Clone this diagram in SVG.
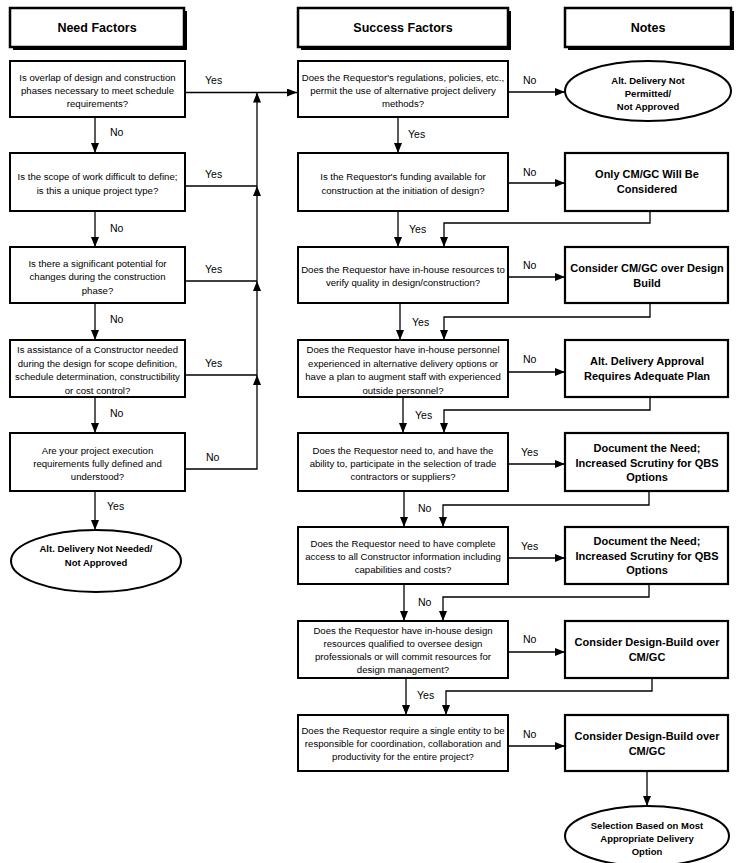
<svg xmlns="http://www.w3.org/2000/svg" width="739" height="863" viewBox="0 0 739 863">
<style>
.hdr{fill:#fff;stroke:#000;stroke-width:2.5}
.shd{fill:#000}
.q{fill:#fff;stroke:#000;stroke-width:2}
.n{fill:#fff;stroke:#000;stroke-width:2.2}
.ht{font-family:"Liberation Sans",Arial,sans-serif;font-size:12.5px;font-weight:bold;text-anchor:middle}
.qt{font-family:"Liberation Sans",Arial,sans-serif;font-size:9.6px;text-anchor:middle}
.nt{font-family:"Liberation Sans",Arial,sans-serif;font-size:11px;font-weight:bold;text-anchor:middle}
.et{font-family:"Liberation Sans",Arial,sans-serif;font-size:9.5px;font-weight:bold;text-anchor:middle}
.lb{font-family:"Liberation Sans",Arial,sans-serif;font-size:10.5px}
.c{fill:none;stroke:#000;stroke-width:1.3}
</style>
<defs>
<marker id="ah" viewBox="0 0 10 8" refX="10" refY="4" markerWidth="10" markerHeight="8" markerUnits="userSpaceOnUse" orient="auto">
<path d="M0,0 L10,4 L0,8 Z" fill="#000"/>
</marker>
</defs>
<rect width="739" height="863" fill="#fff"/>

<!-- Headers -->
<g id="h-need">
<rect class="shd" x="13" y="11" width="174" height="39"/>
<rect class="hdr" x="10" y="8" width="174" height="39"/>
<text class="ht" x="97" y="32">Need Factors</text>
</g>
<g id="h-success">
<rect class="shd" x="301" y="11" width="210" height="39"/>
<rect class="hdr" x="298" y="8" width="210" height="39"/>
<text class="ht" x="403" y="32">Success Factors</text>
</g>
<g id="h-notes">
<rect class="shd" x="568" y="11" width="166" height="39"/>
<rect class="hdr" x="565" y="8" width="166" height="39"/>
<text class="ht" x="648" y="32">Notes</text>
</g>

<!-- Need factors -->
<g id="need1">
<rect class="q" x="10" y="61" width="175" height="56"/>
<text class="qt" x="97.5" y="80.5">Is overlap of design and construction</text>
<text class="qt" x="97.5" y="93.5">phases necessary to meet schedule</text>
<text class="qt" x="97.5" y="106.5">requirements?</text>
</g>
<g id="need2">
<rect class="q" x="10" y="153" width="175" height="58"/>
<text class="qt" x="97.5" y="179.5">Is the scope of work difficult to define;</text>
<text class="qt" x="97.5" y="193.5">is this a unique project type?</text>
</g>
<g id="need3">
<rect class="q" x="10" y="247" width="175" height="56"/>
<text class="qt" x="97.5" y="266.5">Is there a significant potential for</text>
<text class="qt" x="97.5" y="279.5">changes during the construction</text>
<text class="qt" x="97.5" y="293.5">phase?</text>
</g>
<g id="need4">
<rect class="q" x="10" y="340" width="175" height="57"/>
<text class="qt" x="97.5" y="352.5">Is assistance of a Constructor needed</text>
<text class="qt" x="97.5" y="366.5">during the design for scope definition,</text>
<text class="qt" x="97.5" y="379.5">schedule determination, constructibility</text>
<text class="qt" x="97.5" y="393.5">or cost control?</text>
</g>
<g id="need5">
<rect class="q" x="10" y="433" width="175" height="58"/>
<text class="qt" x="97.5" y="453.5">Are your project execution</text>
<text class="qt" x="97.5" y="466.5">requirements fully defined and</text>
<text class="qt" x="97.5" y="479.5">understood?</text>
</g>
<g id="end-need">
<ellipse class="q" cx="96" cy="561" rx="85" ry="31"/>
<text class="et" x="96" y="551.5">Alt. Delivery Not Needed/</text>
<text class="et" x="96" y="565.5">Not Approved</text>
</g>

<!-- Success factors -->
<g id="s1">
<rect class="q" x="298" y="61" width="210" height="56"/>
<text class="qt" x="403" y="80.5">Does the Requestor's regulations, policies, etc.,</text>
<text class="qt" x="403" y="93.5">permit the use of alternative project delivery</text>
<text class="qt" x="403" y="106.5">methods?</text>
</g>
<g id="s2">
<rect class="q" x="298" y="153" width="210" height="58"/>
<text class="qt" x="403" y="179.5">Is the Requestor's funding available for</text>
<text class="qt" x="403" y="193.5">construction at the initiation of design?</text>
</g>
<g id="s3">
<rect class="q" x="298" y="247" width="210" height="56"/>
<text class="qt" x="403" y="272.5">Does the Requestor have in-house resources to</text>
<text class="qt" x="403" y="285.5">verify quality in design/construction?</text>
</g>
<g id="s4">
<rect class="q" x="298" y="340" width="210" height="57"/>
<text class="qt" x="403" y="352.5">Does the Requestor have in-house personnel</text>
<text class="qt" x="403" y="366.5">experienced in alternative delivery options or</text>
<text class="qt" x="403" y="379.5">have a plan to augment staff with experienced</text>
<text class="qt" x="403" y="393.5">outside personnel?</text>
</g>
<g id="s5">
<rect class="q" x="298" y="433" width="210" height="58"/>
<text class="qt" x="403" y="453.5">Does the Requestor need to, and have the</text>
<text class="qt" x="403" y="466.5">ability to, participate in the selection of trade</text>
<text class="qt" x="403" y="479.5">contractors or suppliers?</text>
</g>
<g id="s6">
<rect class="q" x="298" y="527" width="210" height="57"/>
<text class="qt" x="403" y="546.5">Does the Requestor need to have complete</text>
<text class="qt" x="403" y="559.5">access to all Constructor information including</text>
<text class="qt" x="403" y="572.5">capabilities and costs?</text>
</g>
<g id="s7">
<rect class="q" x="298" y="621" width="210" height="57"/>
<text class="qt" x="403" y="633.5">Does the Requestor have in-house design</text>
<text class="qt" x="403" y="646.5">resources qualified to oversee design</text>
<text class="qt" x="403" y="659.5">professionals or will commit resources for</text>
<text class="qt" x="403" y="672.5">design management?</text>
</g>
<g id="s8">
<rect class="q" x="298" y="715" width="210" height="56"/>
<text class="qt" x="403" y="733.5">Does the Requestor require a single entity to be</text>
<text class="qt" x="403" y="746.5">responsible for coordination, collaboration and</text>
<text class="qt" x="403" y="759.5">productivity for the entire project?</text>
</g>

<!-- Notes -->
<g id="n1">
<ellipse class="q" cx="648" cy="91" rx="83" ry="30"/>
<text class="et" x="648" y="83.5">Alt. Delivery Not</text>
<text class="et" x="648" y="96.5">Permitted/</text>
<text class="et" x="648" y="109.5">Not Approved</text>
</g>
<g id="n2">
<rect class="n" x="565" y="153" width="163" height="58"/>
<text class="nt" x="647" y="178">Only CM/GC Will Be</text>
<text class="nt" x="647" y="193">Considered</text>
</g>
<g id="n3">
<rect class="n" x="565" y="247" width="163" height="56"/>
<text class="nt" x="647" y="272">Consider CM/GC over Design</text>
<text class="nt" x="647" y="287">Build</text>
</g>
<g id="n4">
<rect class="n" x="565" y="340" width="163" height="57"/>
<text class="nt" x="647" y="365">Alt. Delivery Approval</text>
<text class="nt" x="647" y="380">Requires Adequate Plan</text>
</g>
<g id="n5">
<rect class="n" x="565" y="433" width="163" height="58"/>
<text class="nt" x="647" y="452">Document the Need;</text>
<text class="nt" x="647" y="467">Increased Scrutiny for QBS</text>
<text class="nt" x="647" y="481">Options</text>
</g>
<g id="n6">
<rect class="n" x="565" y="527" width="163" height="57"/>
<text class="nt" x="647" y="545">Document the Need;</text>
<text class="nt" x="647" y="560">Increased Scrutiny for QBS</text>
<text class="nt" x="647" y="574">Options</text>
</g>
<g id="n7">
<rect class="n" x="565" y="621" width="163" height="57"/>
<text class="nt" x="647" y="646">Consider Design-Build over</text>
<text class="nt" x="647" y="661">CM/GC</text>
</g>
<g id="n8">
<rect class="n" x="565" y="715" width="163" height="56"/>
<text class="nt" x="647" y="740">Consider Design-Build over</text>
<text class="nt" x="647" y="755">CM/GC</text>
</g>
<g id="end-final">
<ellipse class="q" cx="647" cy="836" rx="82" ry="30"/>
<text class="et" x="647" y="828.5">Selection Based on Most</text>
<text class="et" x="647" y="841.5">Appropriate Delivery</text>
<text class="et" x="647" y="854.5">Option</text>
</g>

<!-- Connectors -->
<g id="connectors">
<!-- left column downward -->
<path class="c" d="M95,117 V153" marker-end="url(#ah)"/>
<path class="c" d="M95,211 V247" marker-end="url(#ah)"/>
<path class="c" d="M95,303 V340" marker-end="url(#ah)"/>
<path class="c" d="M95,397 V433" marker-end="url(#ah)"/>
<path class="c" d="M95,491 V530" marker-end="url(#ah)"/>
<!-- left column yes lines -->
<path class="c" d="M185,92.5 H297" marker-end="url(#ah)"/>
<path class="c" d="M185,186 H257"/>
<path class="c" d="M185,281 H257"/>
<path class="c" d="M185,375 H257"/>
<path class="c" d="M185,469 H257 V375" marker-end="url(#ah)"/>
<path class="c" d="M257,375 V281" marker-end="url(#ah)"/>
<path class="c" d="M257,281 V186" marker-end="url(#ah)"/>
<path class="c" d="M257,186 V92.5" marker-end="url(#ah)"/>
<!-- success to notes -->
<path class="c" d="M508,92 H565" marker-end="url(#ah)"/>
<path class="c" d="M508,183 H565" marker-end="url(#ah)"/>
<path class="c" d="M508,277 H565" marker-end="url(#ah)"/>
<path class="c" d="M508,372 H565" marker-end="url(#ah)"/>
<path class="c" d="M508,464 H565" marker-end="url(#ah)"/>
<path class="c" d="M508,558 H565" marker-end="url(#ah)"/>
<path class="c" d="M508,652 H565" marker-end="url(#ah)"/>
<path class="c" d="M508,746 H565" marker-end="url(#ah)"/>
<!-- success downward -->
<path class="c" d="M398,117 V153" marker-end="url(#ah)"/>
<path class="c" d="M398,211 V247" marker-end="url(#ah)"/>
<path class="c" d="M400,303 V340" marker-end="url(#ah)"/>
<path class="c" d="M403,397 V433" marker-end="url(#ah)"/>
<path class="c" d="M404,491 V527" marker-end="url(#ah)"/>
<path class="c" d="M404,584 V621" marker-end="url(#ah)"/>
<path class="c" d="M406,678 V715" marker-end="url(#ah)"/>
<!-- notes back into flow -->
<path class="c" d="M650,211 V223 H444 V247" marker-end="url(#ah)"/>
<path class="c" d="M650,303 V317 H444 V340" marker-end="url(#ah)"/>
<path class="c" d="M650,397 V410 H444 V433" marker-end="url(#ah)"/>
<path class="c" d="M649,491 V505 H443 V527" marker-end="url(#ah)"/>
<path class="c" d="M649,584 V597 H443 V621" marker-end="url(#ah)"/>
<path class="c" d="M652,678 V691 H446 V715" marker-end="url(#ah)"/>
<path class="c" d="M647,771 V806" marker-end="url(#ah)"/>
<!-- labels -->
<text class="lb" x="205" y="84">Yes</text>
<text class="lb" x="205" y="178">Yes</text>
<text class="lb" x="205" y="273">Yes</text>
<text class="lb" x="205" y="367">Yes</text>
<text class="lb" x="206" y="461">No</text>
<text class="lb" x="110" y="136">No</text>
<text class="lb" x="110" y="232">No</text>
<text class="lb" x="110" y="323">No</text>
<text class="lb" x="110" y="417">No</text>
<text class="lb" x="107" y="510">Yes</text>
<text class="lb" x="523" y="84">No</text>
<text class="lb" x="523" y="176">No</text>
<text class="lb" x="523" y="269">No</text>
<text class="lb" x="523" y="363">No</text>
<text class="lb" x="521" y="456">Yes</text>
<text class="lb" x="521" y="550">Yes</text>
<text class="lb" x="523" y="643">No</text>
<text class="lb" x="523" y="738">No</text>
<text class="lb" x="408" y="138">Yes</text>
<text class="lb" x="409" y="233">Yes</text>
<text class="lb" x="412" y="326">Yes</text>
<text class="lb" x="415" y="419">Yes</text>
<text class="lb" x="418" y="512">No</text>
<text class="lb" x="418" y="606">No</text>
<text class="lb" x="417" y="699">Yes</text>
</g>
</svg>
